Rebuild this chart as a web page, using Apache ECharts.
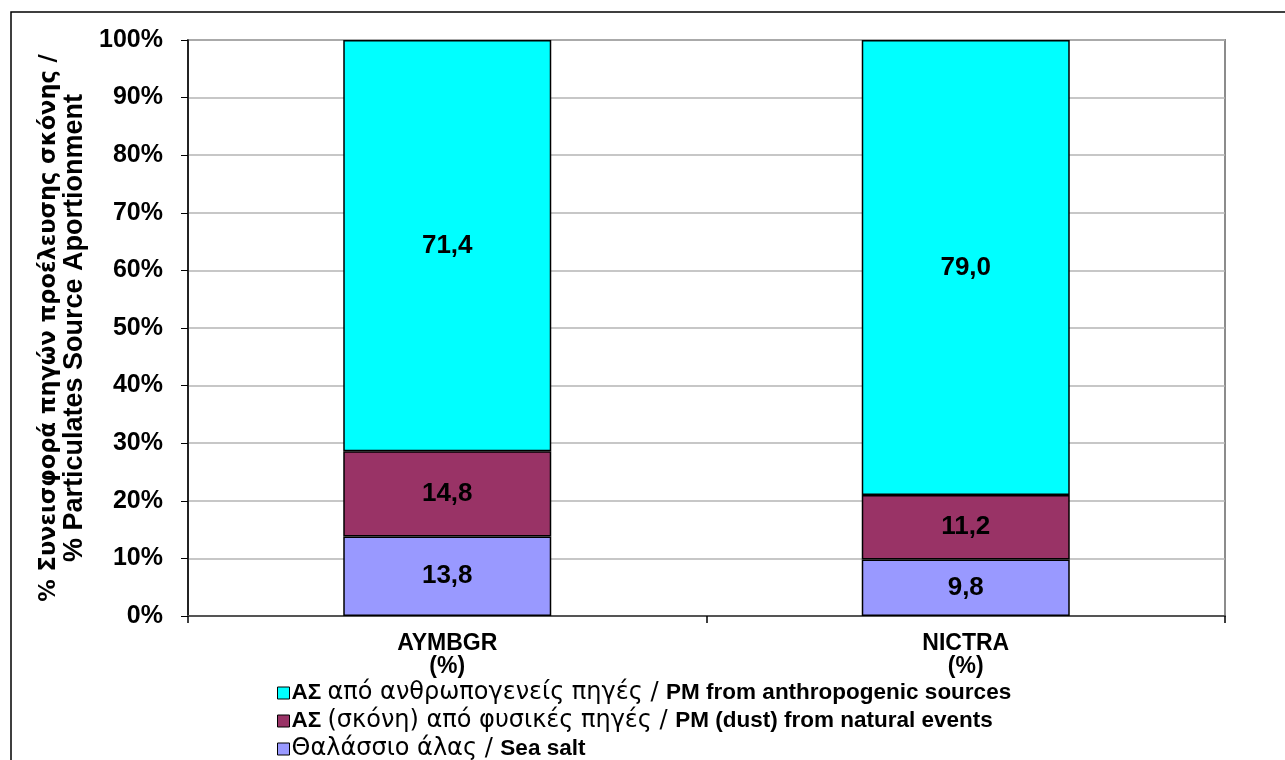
<!DOCTYPE html>
<html>
<head>
<meta charset="utf-8">
<script src="https://cdn.jsdelivr.net/npm/echarts@6/dist/echarts.min.js"></script>
<style>html,body{margin:0;padding:0;background:#fff}#c{width:1285px;height:760px}</style>
</head>
<body>
<div id="c"></div>
<script>
const categories = ['AYMBGR\n(%)', 'NICTRA\n(%)'];
const seaSalt = [13.8, 9.8];
const dust = [14.8, 11.2];
const anthropogenic = [71.4, 79.0];
const seriesNames = [
  'ΑΣ από ανθρωπογενείς πηγές / PM from anthropogenic sources',
  'ΑΣ (σκόνη) από φυσικές πηγές / PM (dust) from natural events',
  'Θαλάσσιο άλας / Sea salt'
];
const legendRich = {
  [seriesNames[0]]: '{en|ΑΣ }{gr|από ανθρωπογενείς πηγές / }{en|PM from anthropogenic sources}',
  [seriesNames[1]]: '{en|ΑΣ }{gr|(σκόνη) από φυσικές πηγές / }{en|PM (dust) from natural events}',
  [seriesNames[2]]: '{gr|Θαλάσσιο άλας / }{en|Sea salt}'
};
const yTicks = { min: 0, max: 100, interval: 10 };
const yTitle = ['% Συνεισφορά πηγών προέλευσης σκόνης /', '% Particulates Source Aportionment'];

const AR = "'Liberation Sans', Arial, sans-serif";
const DV = "'DejaVu Sans', sans-serif";
const chart = echarts.init(document.getElementById('c'), null, {renderer: 'canvas'});
const fmt = p => p.value.toFixed(1).replace('.', ',');
function mk(name, data, color) {
  return {
    name, type: 'bar', stack: 'total', data, barWidth: 208,
    itemStyle: {color, borderColor: '#000', borderWidth: 1.5},
    label: {show: true, position: 'inside', formatter: fmt, color: '#000',
      fontFamily: AR, fontWeight: 'bold', fontSize: 26}
  };
}
chart.setOption({
  animation: false,
  backgroundColor: '#fff',
  graphic: [{type: 'rect', shape: {x: 11, y: 12, width: 1400, height: 900},
    style: {fill: 'none', stroke: '#000', lineWidth: 1.5}, z: 100}],
  grid: {left: 188, right: 60, top: 40, bottom: 144, show: true,
    borderColor: '#8c8c8c', borderWidth: 2, backgroundColor: 'transparent'},
  legend: {
    orient: 'vertical', left: 272, top: 676, height: 200, itemGap: 4,
    itemWidth: 12, itemHeight: 12, icon: 'rect',
    itemStyle: {borderColor: '#000', borderWidth: 1},
    data: [seriesNames[0], seriesNames[1], seriesNames[2]],
    formatter: n => legendRich[n],
    textStyle: {
      fontSize: 22, fontWeight: 700, color: '#000', fontFamily: AR, padding: [0,0,0,-3],
      rich: {
        en: {fontSize: 22.5, lineHeight: 24, fontWeight: 700, fontFamily: AR, color: '#000'},
        gr: {fontSize: 24, lineHeight: 24, fontWeight: 400, fontFamily: DV, color: '#000'}
      }
    }
  },
  xAxis: {
    type: 'category', data: categories,
    axisLine: {lineStyle: {color: '#555', width: 2}},
    axisTick: {show: true, length: 7, lineStyle: {color: '#000', width: 1.5}},
    axisLabel: {fontSize: 23, fontWeight: 'bold', color: '#000', fontFamily: AR,
      margin: 16, lineHeight: 23},
    splitLine: {show: false}
  },
  yAxis: {
    type: 'value', min: yTicks.min, max: yTicks.max, interval: yTicks.interval,
    name: '{g|' + yTitle[0] + '}\n{e|' + yTitle[1] + '}',
    nameLocation: 'middle', nameGap: 90, nameRotate: 90,
    nameTextStyle: {color: '#000', align: 'center', fontWeight: 700,
      rich: {
        g: {fontSize: 22.5, fontWeight: 700, fontFamily: DV, color: '#000', lineHeight: 26, align: 'center'},
        e: {fontSize: 27, fontWeight: 800, fontFamily: AR, color: '#000', lineHeight: 26, align: 'center'}
      }},
    axisLine: {show: true, lineStyle: {color: '#000', width: 1.5}},
    axisTick: {show: true, length: 7, lineStyle: {color: '#000'}},
    axisLabel: {formatter: '{value}%', fontSize: 25, fontWeight: 'bold', color: '#000',
      fontFamily: AR, margin: 25},
    splitLine: {show: true, lineStyle: {color: '#b4b4b4', width: 1.5}}
  },
  series: [
    mk(seriesNames[2], seaSalt, '#9999FF'),
    mk(seriesNames[1], dust, '#993366'),
    mk(seriesNames[0], anthropogenic, '#00FFFF')
  ]
});
</script>
</body>
</html>
